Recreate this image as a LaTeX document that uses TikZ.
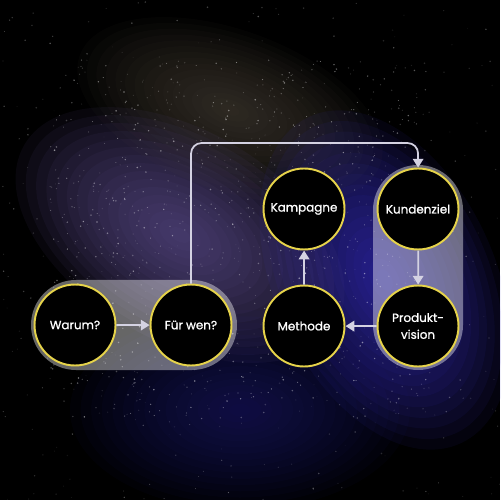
\documentclass[tikz,border=0pt]{standalone}
\usepackage{fontspec}
\setmainfont{Poppins}
\newfontfamily\stagefont{Poppins}[FakeBold=1]
\usetikzlibrary{arrows.meta}
\usetikzlibrary{positioning}

\definecolor{ringyellow}{HTML}{E6D34A}
\definecolor{linkgray}{HTML}{D4D2E2}
\definecolor{bandblue}{HTML}{3A32C8}
\definecolor{bandviolet}{HTML}{5E4E8E}
\definecolor{bandbrown}{HTML}{50483E}
\definecolor{bandnavy}{HTML}{1E1C70}

\tikzset{
  stage/.style={circle, fill=black, draw=ringyellow, line width=1.1pt,
    minimum size=1.62cm, inner sep=0pt, text=white, align=center,
    font=\stagefont\fontsize{6.8}{9.6}\selectfont},
  link/.style={draw=linkgray, line width=1pt, -{Triangle[length=5pt,width=6pt]}},
  pill/.style={fill=white, fill opacity=0.4, rounded corners=0.9cm}
}

\begin{document}
\begin{tikzpicture}[scale=0.02]
		% night sky
		\fill [black] (0,0) rectangle (500,-500);
		\useasboundingbox (0,0) rectangle (500,-500);
		\foreach \k in {1,...,16} {
			\fill [bandnavy, opacity=0.06] (240,-410) ellipse ({170*\k/16} and {100*\k/16});
			\fill [bandbrown, opacity=0.06, rotate around={-20:(230,-110)}] (230,-110) ellipse ({160*\k/16} and {80*\k/16});
			\fill [bandblue, opacity=0.075, rotate around={-65:(385,-280)}] (385,-280) ellipse ({180*\k/16} and {110*\k/16});
			\fill [bandviolet, opacity=0.085, rotate around={-30:(180,-235)}] (180,-235) ellipse ({180*\k/16} and {105*\k/16});
		}
		% stars (radius in px)
		\pgfmathsetseed{42}
		\foreach \i in {1,...,400} {
			\pgfmathsetmacro{\sx}{rnd*500}
			\pgfmathsetmacro{\sy}{-rnd*500}
			\pgfmathsetmacro{\so}{0.05+rnd*0.3}
			\pgfmathsetmacro{\sr}{0.4+rnd*0.5}
			\fill [white, opacity=\so] (\sx,\sy) circle (\sr);
		}
		\foreach \i in {1,...,900} {
			\pgfmathsetmacro{\sx}{50+rnd*380}
			\pgfmathsetmacro{\sy}{-60-rnd*360}
			\pgfmathsetmacro{\so}{0.1+rnd*0.4}
			\pgfmathsetmacro{\sr}{0.4+rnd*0.5}
			\fill [white, opacity=\so] (\sx,\sy) circle (\sr);
		}
		% groups
		\fill [pill] (31,-280) rectangle (237,-370);
		\fill [pill] (373,-165) rectangle (463,-370);
		% stages
		\node [stage] (warum) at (75,-325) {Warum?};
		\node [stage] (fuerwen) at (191,-325) {Für wen?};
		\node [stage] (methode) at (304,-326) {Methode};
		\node [stage] (vision) at (418,-326) {Produkt-\\vision};
		\node [stage] (kampagne) at (304,-209) {Kampagne};
		\node [stage] (kundenziel) at (418,-209) {Kundenziel};
		\coordinate (turn) at (418,-143);
		% flow
		\draw [link] (warum) -- (fuerwen);
		\draw [link, rounded corners=6pt] (fuerwen.north) |- (turn) -- (kundenziel.north);
		\draw [link] (kundenziel) -- (vision);
		\draw [link] (vision) -- (methode);
		\draw [link] (methode) -- (kampagne);
\end{tikzpicture}
\end{document}
